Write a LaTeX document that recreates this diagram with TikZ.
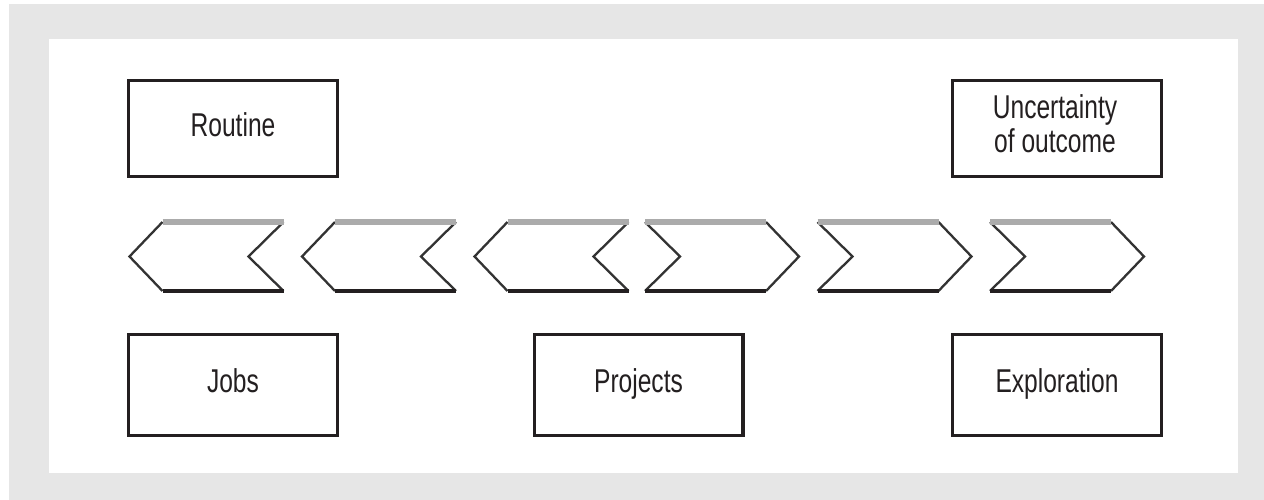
\documentclass[tikz,border=0pt]{standalone}
\usepackage{fontspec}
\usetikzlibrary{calc}
\newfontfamily\boxfont[FakeStretch=0.745]{Liberation Sans}
\definecolor{ink}{HTML}{231F20}
\definecolor{framegray}{HTML}{E6E6E6}
\definecolor{rimgray}{HTML}{ABABAB}
\definecolor{edgegray}{HTML}{333333}

\begin{document}
\begin{tikzpicture}[x=1pt,y=-1pt,
  box/.style={draw=ink, line width=3.4pt, inner sep=0pt, minimum width=208.6pt},
  highbox/.style={box, minimum height=95.6pt},
  lowbox/.style={box, minimum height=100.6pt},
  lbl/.style={font=\boxfont\fontsize{33}{34}\selectfont, text=ink, inner sep=0pt, anchor=base, align=center},
  toprim/.style={draw=rimgray, line width=5.5pt},
  baserim/.style={draw=ink, line width=3.2pt},
  slant/.style={draw=edgegray, line width=2.3pt, line join=miter},
]
% page, grey frame and white panel
\path[use as bounding box, fill=white] (0,0) rectangle (1264,500);
\fill[framegray] (9,4) rectangle (1264,500);
\fill[white] (49,39) rectangle (1238,473);

% boxes
\node[highbox] (routine)  at (233,128.5) {};
\node[highbox] (uncert)   at (1057,128.5) {};
\node[lowbox]  (jobs)     at (233,385) {};
\node[lowbox]  (projects) at (638.5,385) {};
\node[lowbox]  (explore)  at (1057,385) {};

% labels
\node[lbl] (routinetxt) at ($(routine.center)+(0,8.5)$) {Routine};
\node[lbl] (uncerttxt)  at ($(uncert.center)+(-2,24.5)$) {Uncertainty\\of outcome};
\node[lbl] (jobstxt)    at ($(jobs.center)+(0,7)$) {Jobs};
\node[lbl] (projtxt)    at ($(projects.center)+(0,7)$) {Projects};
\node[lbl] (exptxt)     at ($(explore.center)+(0,7)$) {Exploration};

% chevrons pointing left
\foreach \t in {129.5,302,474.5}{
  \draw[slant] (\t+33,222) -- (\t,256.5) -- (\t+33,291);
  \draw[slant] (\t+154,222) -- (\t+119,256.5) -- (\t+154,291);
  \draw[toprim] (\t+33,222) -- (\t+154,222);
  \draw[baserim] (\t+33,291) -- (\t+154,291);
}
% chevrons pointing right
\foreach \l in {645,817.5,990}{
  \draw[slant] (\l,222) -- (\l+35,256.5) -- (\l,291);
  \draw[slant] (\l+121,222) -- (\l+154,256.5) -- (\l+121,291);
  \draw[toprim] (\l,222) -- (\l+121,222);
  \draw[baserim] (\l,291) -- (\l+121,291);
}
\end{tikzpicture}
\end{document}
